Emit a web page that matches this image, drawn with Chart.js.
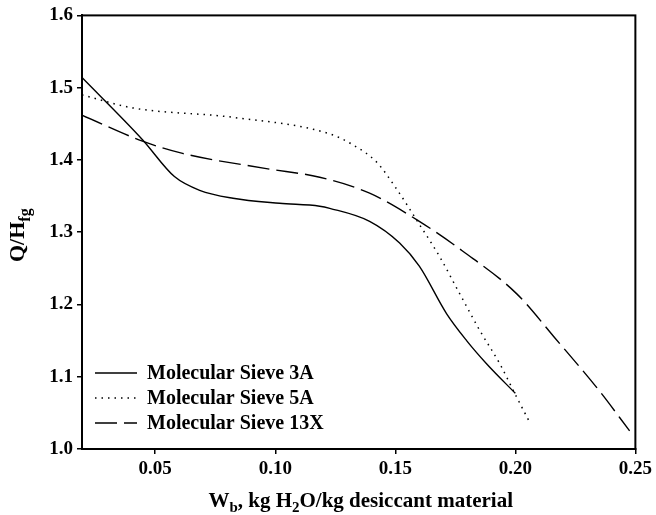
<!DOCTYPE html>
<html>
<head>
<meta charset="utf-8">
<script src="https://cdn.jsdelivr.net/npm/chart.js@4/dist/chart.umd.min.js"></script>
<style>
  html, body { margin: 0; padding: 0; background: #fff; }
  #wrap { width: 656px; height: 515px; }
</style>
</head>
<body>
<div id="wrap"><canvas id="chart"></canvas></div>
<script>
// values
const seriesNames = ['Molecular Sieve 3A', 'Molecular Sieve 5A', 'Molecular Sieve 13X'];

const sieve3A_x = [0.0195, 0.0447, 0.058, 0.0685, 0.0824, 0.1018, 0.1185, 0.1227, 0.1393, 0.1518, 0.160, 0.1714, 0.1797, 0.188, 0.200];
const sieve3A_y = [1.514, 1.428, 1.377, 1.358, 1.347, 1.340, 1.336, 1.333, 1.315, 1.285, 1.253, 1.187, 1.150, 1.118, 1.077];

const sieve5A_x = [0.0195, 0.0406, 0.0823, 0.1227, 0.1323, 0.1422, 0.1505, 0.160, 0.1685, 0.1768, 0.1852, 0.1935, 0.2005, 0.2055];
const sieve5A_y = [1.490, 1.472, 1.459, 1.436, 1.421, 1.397, 1.360, 1.311, 1.266, 1.215, 1.164, 1.118, 1.072, 1.040];

const sieve13X_x = [0.0195, 0.0447, 0.0614, 0.0963, 0.1185, 0.1393, 0.160, 0.178, 0.2005, 0.2164, 0.2351, 0.2476];
const sieve13X_y = [1.462, 1.426, 1.409, 1.388, 1.376, 1.354, 1.315, 1.274, 1.215, 1.154, 1.080, 1.025];

const xTicks = [0.05, 0.10, 0.15, 0.20, 0.25];
const xTickLabels = ['0.05', '0.10', '0.15', '0.20', '0.25'];
const yTicks = [1.0, 1.1, 1.2, 1.3, 1.4, 1.5, 1.6];
const yTickLabels = ['1.0', '1.1', '1.2', '1.3', '1.4', '1.5', '1.6'];

// axis titles, split into normal / subscript pieces
const xTitleParts = [['W', 0], ['b', 1], [', kg H', 0], ['2', 1], ['O/kg desiccant material', 0]];
const yTitleParts = [['Q/H', 0], ['fg', 1]];

function pts(xs, ys) {
  return xs.map((x, i) => ({ x: x, y: ys[i] }));
}

const FONT = '"Liberation Serif", "Times New Roman", serif';

function drawParts(ctx, parts, size, cx, cy) {
  const big = 'bold ' + size + 'px ' + FONT;
  const small = 'bold ' + Math.round(size * 0.72) + 'px ' + FONT;
  let w = 0;
  parts.forEach(p => { ctx.font = p[1] ? small : big; w += ctx.measureText(p[0]).width; });
  let x = cx - w / 2;
  ctx.textBaseline = 'alphabetic';
  ctx.textAlign = 'left';
  parts.forEach(p => {
    ctx.font = p[1] ? small : big;
    ctx.fillText(p[0], x, cy + (p[1] ? size * 0.25 : 0));
    x += ctx.measureText(p[0]).width;
  });
}

const extras = {
  id: 'extras',
  afterDraw(chart) {
    const ctx = chart.ctx;
    const a = chart.chartArea;
    ctx.save();
    // frame
    ctx.strokeStyle = '#000';
    ctx.lineWidth = 2;
    ctx.strokeRect(a.left, a.top, a.right - a.left, a.bottom - a.top);

    // legend inside the plot, lower left
    ctx.fillStyle = '#000';
    chart.data.datasets.forEach((ds, i) => {
      const y = 373 + i * 25;
      ctx.beginPath();
      ctx.setLineDash(ds.borderDash || []);
      ctx.lineWidth = ds.borderWidth;
      ctx.strokeStyle = ds.borderColor;
      ctx.moveTo(95, y);
      ctx.lineTo(137, y);
      ctx.stroke();
      ctx.setLineDash([]);
      ctx.font = 'bold 20px ' + FONT;
      ctx.textBaseline = 'middle';
      ctx.textAlign = 'left';
      ctx.fillText(ds.label, 147, y + 1);
    });

    // x title
    drawParts(ctx, xTitleParts, 21, (a.left + a.right) / 2 + 2, 507);
    // y title
    ctx.translate(24, (a.top + a.bottom) / 2 + 3);
    ctx.rotate(-Math.PI / 2);
    drawParts(ctx, yTitleParts, 22, 0, 0);
    ctx.restore();
  }
};

new Chart(document.getElementById('chart'), {
  type: 'line',
  data: {
    datasets: [
      { label: seriesNames[0], data: pts(sieve3A_x, sieve3A_y), borderColor: '#000', borderWidth: 1.4, borderDash: [] },
      { label: seriesNames[1], data: pts(sieve5A_x, sieve5A_y), borderColor: '#000', borderWidth: 1.5, borderDash: [1.5, 5] },
      { label: seriesNames[2], data: pts(sieve13X_x, sieve13X_y), borderColor: '#000', borderWidth: 1.4, borderDash: [22, 7] }
    ]
  },
  options: {
    responsive: true,
    maintainAspectRatio: false,
    animation: false,
    layout: { padding: { top: 13, right: 20, left: 0, bottom: 0 } },
    elements: {
      point: { radius: 0 },
      line: { cubicInterpolationMode: 'monotone', fill: false }
    },
    plugins: {
      legend: { display: false },
      tooltip: { enabled: false }
    },
    scales: {
      x: {
        type: 'linear',
        min: 0.0195,
        max: 0.25,
        afterBuildTicks: s => { s.ticks = xTicks.map(v => ({ value: v })); },
        afterFit: s => { s.height = 66; },
        border: { display: true, color: '#000', width: 2 },
        grid: { drawOnChartArea: false, drawTicks: true, tickLength: 5, color: '#000', lineWidth: 1.5 },
        ticks: {
          color: '#000',
          padding: 4,
          maxRotation: 0,
          font: { family: FONT, size: 19, weight: 'bold' },
          callback: (v, i) => xTickLabels[i]
        }
      },
      y: {
        type: 'linear',
        min: 1.0,
        max: 1.6,
        afterBuildTicks: s => { s.ticks = yTicks.map(v => ({ value: v })); },
        afterFit: s => { s.width = 82; },
        border: { display: true, color: '#000', width: 2 },
        grid: { drawOnChartArea: false, drawTicks: true, tickLength: 5, color: '#000', lineWidth: 1.5 },
        ticks: {
          color: '#000',
          padding: 4,
          font: { family: FONT, size: 19, weight: 'bold' },
          callback: (v, i) => yTickLabels[i]
        }
      }
    }
  },
  plugins: [extras]
});
</script>
</body>
</html>
